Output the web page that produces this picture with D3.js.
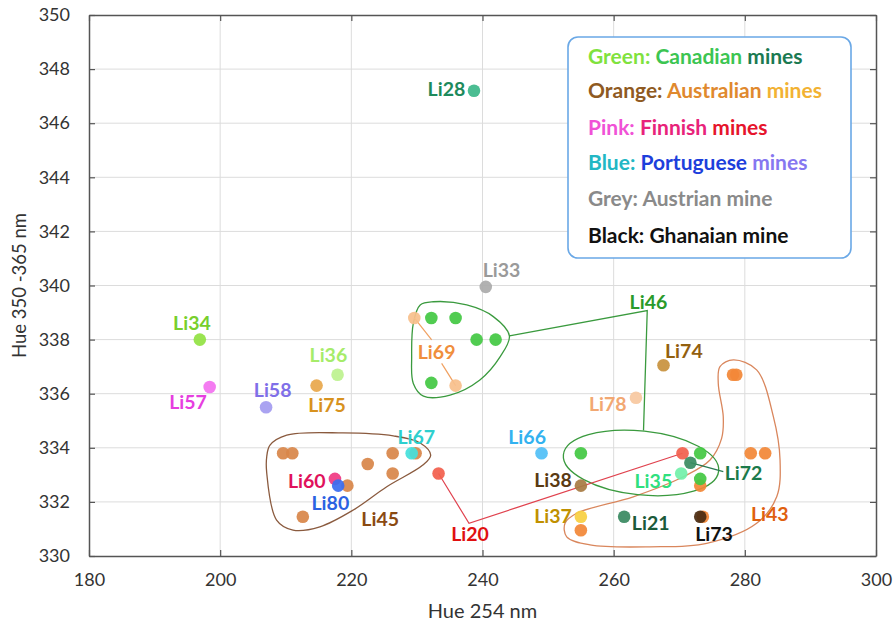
<!DOCTYPE html>
<html>
<head>
<meta charset="utf-8">
<script src="https://cdn.jsdelivr.net/npm/d3@7"></script>
<style>
  body { margin: 0; background: #fff; }
  svg { display: block; }
  text { font-family: Lato, "Open Sans", sans-serif; }
</style>
</head>
<body>
<svg id="chart" width="896" height="630"></svg>
<script>
// ---- data -------------------------------------------------------------
// Axis ticks
const xTicks = [180, 200, 220, 240, 260, 280, 300];
const yTicks = [330, 332, 334, 336, 338, 340, 342, 344, 346, 348, 350];

// One entry per measured point: sample id, hue at 254 nm, hue at 350-365 nm
const pointSample = [
  "Li43", "Li43", "Li43", "Li43", "Li43", "Li43", "Li43",
  "Li45", "Li45", "Li45", "Li45", "Li45", "Li45", "Li45", "Li45",
  "Li69", "Li69",
  "Li46", "Li46", "Li46", "Li46", "Li46", "Li46", "Li46", "Li46",
  "Li28", "Li33", "Li34", "Li57", "Li58", "Li36", "Li75", "Li66", "Li67",
  "Li60", "Li80", "Li20", "Li20", "Li38", "Li37", "Li35", "Li72", "Li21",
  "Li73", "Li74", "Li78"
];
const hue254 = [
  255.0, 278.2, 278.7, 280.9, 283.1, 273.2, 273.6,
  209.6, 211.0, 222.5, 226.3, 226.3, 219.4, 212.6, 229.8,
  229.6, 235.9,
  232.2, 235.9, 239.1, 242.0, 232.2, 255.0, 273.2, 273.2,
  238.7, 240.5, 196.9, 198.4, 207.0, 217.9, 214.7, 249.0, 229.2,
  217.5, 218.0, 233.3, 270.5, 255.0, 255.0, 270.3, 271.7, 261.6,
  273.2, 267.6, 263.4
];
const hue350 = [
  330.95, 336.7, 336.7, 333.8, 333.8, 332.6, 331.45,
  333.8, 333.8, 333.4, 333.8, 333.05, 332.6, 331.45, 333.8,
  338.8, 336.3,
  338.8, 338.8, 338.0, 338.0, 336.4, 333.8, 333.8, 332.85,
  347.2, 339.95, 338.0, 336.25, 335.5, 336.7, 336.3, 333.8, 333.8,
  332.85, 332.6, 333.05, 333.8, 332.6, 331.45, 333.05, 333.45, 331.45,
  331.45, 337.05, 335.85
];

// Sample labels, placed in data units
const labelText = ["Li28", "Li33", "Li34", "Li57", "Li58", "Li36", "Li75", "Li69",
  "Li46", "Li74", "Li78", "Li66", "Li67", "Li60", "Li80", "Li45", "Li20", "Li38",
  "Li35", "Li72", "Li37", "Li21", "Li73", "Li43"];
const labelX = [234.5, 242.9, 195.7, 195.1, 208.0, 216.5, 216.3, 233.0,
  265.3, 270.7, 259.1, 246.8, 229.9, 213.2, 216.8, 224.4, 238.1, 250.75,
  266.05, 279.8, 250.75, 265.65, 275.3, 283.8];
const labelY = [347.25, 340.55, 338.6, 335.68, 336.14, 337.43, 335.58, 337.53,
  339.4, 337.58, 335.61, 334.39, 334.41, 332.77, 331.97, 331.37, 330.81, 332.81,
  332.77, 333.06, 331.48, 331.21, 330.8, 331.54];

// Group outlines (data units)
const li45Outline = [[207.6, 334.1], [210.15, 334.47], [218.7, 334.55], [226.4, 334.44],
  [230.5, 334.18], [232.1, 333.73], [230.9, 333.36], [225.4, 332.56], [220.3, 331.7],
  [215.2, 331.08], [211.1, 330.96], [208.6, 331.33], [207.1, 333.07], [207.1, 333.67]];
const li46Outline = [[230.5, 339.28], [232.5, 339.4], [237.6, 339.28], [241.65, 338.85],
  [244.1, 338.14], [242.7, 337.37], [239.6, 336.51], [235.05, 335.95], [231.0, 335.91],
  [229.45, 336.38], [229.2, 337.37], [229.45, 338.6]];
const li43Outline = [[278.25, 337.25], [281.8, 336.88], [284.35, 335.15], [285.37, 333.55],
  [284.86, 332.19], [281.8, 331.21], [274.19, 330.47], [265.54, 330.34], [256.39, 330.41],
  [252.84, 330.71], [252.58, 331.21], [254.36, 331.58], [262.99, 332.19], [270.62, 332.93],
  [274.69, 333.55], [276.46, 334.35], [276.71, 335.15], [275.95, 336.38], [276.21, 337.0]];
// Second Li46 cluster: ellipse centre and half-axes (data units), tilt in degrees
const li46Ellipse = { cx: 264.17, cy: 333.44, rx: 11.9, ry: 1.18, tilt: 6 };

// Connector polylines (data units)
const li46Link = [[244.1, 338.14], [265.12, 339.07], [264.55, 334.64]];
const li20Link = [[233.3, 333.05], [237.94, 331.21], [270.5, 333.8]];
const li69LinkA = [[229.6, 338.8], [232.25, 337.99]];
const li69LinkB = [[233.77, 337.12], [235.9, 336.3]];
const li72Link = [[271.7, 333.45], [276.72, 333.12]];

// Legend lines: [text, colour] pieces
const legendLines = [
  [["Green: ", "#7fe23e"], ["Canadian ", "#3cc552"], ["mines", "#1b7a52"]],
  [["Orange: ", "#8f5a22"], ["Australian ", "#e0892e"], ["mines", "#f2b233"]],
  [["Pink: ", "#f052d6"], ["Finnish ", "#e8237a"], ["mines", "#e6142c"]],
  [["Blue: ", "#22b7c4"], ["Portuguese ", "#1d3fdc"], ["mines", "#8677f0"]],
  [["Grey: Austrian mine", "#8a8a8a"]],
  [["Black: Ghanaian mine", "#111111"]]
];

// ---- styles -----------------------------------------------------------
const pointColor = {
  Li43: "#f28838", Li45: "#d8874a", Li69: "#f8bf8c", Li46: "#44c844",
  Li28: "#3db88a", Li33: "#ababab", Li34: "#92e244", Li57: "#f372f0",
  Li58: "#a49cf0", Li36: "#bdf28f", Li75: "#e8a84c", Li66: "#52c0f6",
  Li67: "#45e0dc", Li60: "#f03a82", Li80: "#3a6ef0", Li20: "#f2604e",
  Li38: "#a87c44", Li37: "#f8d042", Li35: "#72f0aa", Li72: "#3a8c62",
  Li21: "#3a8a62", Li73: "#4a2c12", Li74: "#c8923e", Li78: "#f8c8a0"
};
const labelColor = {
  Li28: "#1d8a5c", Li33: "#9a9a9a", Li34: "#78cf2c", Li57: "#e63ee0",
  Li58: "#7f6fe8", Li36: "#a6ec6a", Li75: "#d8921e", Li69: "#f08e3c",
  Li46: "#2a9a2a", Li74: "#93600f", Li78: "#f2a872", Li66: "#33b2f0",
  Li67: "#2ecfce", Li60: "#e0125c", Li80: "#2b62e2", Li45: "#8a4a12",
  Li20: "#e01010", Li38: "#5a3a12", Li35: "#2fe07e", Li72: "#1b7a4a",
  Li37: "#c09000", Li21: "#1b5a3a", Li73: "#111111", Li43: "#e0600e"
};

// ---- layout -----------------------------------------------------------
const plot = { left: 89, right: 876, top: 15, bottom: 556 };

const x = d3.scaleLinear().domain([180, 300]).range([plot.left, plot.right]);
const y = d3.scaleLinear().domain([330, 350]).range([plot.bottom, plot.top]);

const svg = d3.select("#chart");

// gridlines
const grid = svg.append("g").attr("stroke", "#dcdcdc").attr("stroke-width", 1);
grid.selectAll(".gx").data(xTicks.slice(1, -1)).join("line")
  .attr("x1", d => x(d)).attr("x2", d => x(d))
  .attr("y1", plot.top).attr("y2", plot.bottom);
grid.selectAll(".gy").data(yTicks.slice(1, -1)).join("line")
  .attr("x1", plot.left).attr("x2", plot.right)
  .attr("y1", d => y(d)).attr("y2", d => y(d));

// axes with inward ticks on all four sides
const axisColor = "#555";
function styleAxis(g, showText) {
  g.select(".domain").attr("stroke", axisColor).attr("stroke-width", 1.5);
  g.selectAll(".tick line").attr("stroke", axisColor).attr("stroke-width", 1.2);
  g.selectAll(".tick text")
    .attr("fill", "#333")
    .style("font-size", "18px")
    .style("font-family", "Lato, 'Open Sans', sans-serif");
  if (!showText) g.selectAll(".tick text").remove();
}
svg.append("g").attr("transform", `translate(0,${plot.bottom})`)
  .call(d3.axisBottom(x).tickValues(xTicks).tickSize(-6).tickSizeOuter(0).tickPadding(17))
  .call(g => styleAxis(g, true));
svg.append("g").attr("transform", `translate(0,${plot.top})`)
  .call(d3.axisTop(x).tickValues(xTicks).tickSize(-6).tickSizeOuter(0))
  .call(g => styleAxis(g, false));
svg.append("g").attr("transform", `translate(${plot.left},0)`)
  .call(d3.axisLeft(y).tickValues(yTicks).tickSize(-6).tickSizeOuter(0).tickPadding(19))
  .call(g => styleAxis(g, true));
svg.append("g").attr("transform", `translate(${plot.right},0)`)
  .call(d3.axisRight(y).tickValues(yTicks).tickSize(-6).tickSizeOuter(0))
  .call(g => styleAxis(g, false));

// axis titles
svg.append("text")
  .attr("x", (plot.left + plot.right) / 2).attr("y", 611)
  .attr("text-anchor", "middle").attr("dy", "0.35em")
  .attr("fill", "#333").style("font-size", "20px")
  .text("Hue 254 nm");
svg.append("text")
  .attr("transform", `translate(20,${(plot.top + plot.bottom) / 2}) rotate(-90)`)
  .attr("text-anchor", "middle").attr("dy", "0.35em")
  .attr("fill", "#333").style("font-size", "18.5px")
  .text("Hue 350 -365 nm");

// ---- group outlines and connectors --------------------------------------
const toPx = pts => pts.map(p => [x(p[0]), y(p[1])]);
const closedCurve = d3.line().curve(d3.curveCatmullRomClosed.alpha(0.5));
const polyline = d3.line();
const annot = svg.append("g").attr("fill", "none");

annot.append("path").attr("d", closedCurve(toPx(li45Outline)))
  .attr("stroke", "#8a5a3e").attr("stroke-width", 1.3);
annot.append("path").attr("d", closedCurve(toPx(li46Outline)))
  .attr("stroke", "#3a9a3e").attr("stroke-width", 1.3);
annot.append("path").attr("d", closedCurve(toPx(li43Outline)))
  .attr("stroke", "#d9865c").attr("stroke-width", 1.3);
annot.append("ellipse")
  .attr("cx", 0).attr("cy", 0)
  .attr("rx", x(li46Ellipse.cx + li46Ellipse.rx) - x(li46Ellipse.cx))
  .attr("ry", y(li46Ellipse.cy) - y(li46Ellipse.cy + li46Ellipse.ry))
  .attr("transform", `translate(${x(li46Ellipse.cx)},${y(li46Ellipse.cy)}) rotate(${li46Ellipse.tilt})`)
  .attr("stroke", "#3a9a3e").attr("stroke-width", 1.3);

annot.append("path").attr("d", polyline(toPx(li46Link)))
  .attr("stroke", "#3a9a3e").attr("stroke-width", 1.3);
annot.append("path").attr("d", polyline(toPx(li20Link)))
  .attr("stroke", "#e0424e").attr("stroke-width", 1.2);
annot.append("path").attr("d", polyline(toPx(li69LinkA)))
  .attr("stroke", "#f0a060").attr("stroke-width", 1.2);
annot.append("path").attr("d", polyline(toPx(li69LinkB)))
  .attr("stroke", "#f0a060").attr("stroke-width", 1.2);
annot.append("path").attr("d", polyline(toPx(li72Link)))
  .attr("stroke", "#2a7a52").attr("stroke-width", 1.3);

// ---- points -------------------------------------------------------------
const points = pointSample.map((s, i) => ({ s, hx: hue254[i], hy: hue350[i] }));
svg.append("g").selectAll("circle").data(points).join("circle")
  .attr("cx", d => x(d.hx)).attr("cy", d => y(d.hy))
  .attr("r", 6.3)
  .attr("fill", d => pointColor[d.s])
  .attr("fill-opacity", 0.93);

// ---- sample labels ------------------------------------------------------
svg.append("g").selectAll("text").data(labelText).join("text")
  .attr("x", (d, i) => x(labelX[i])).attr("y", (d, i) => y(labelY[i]))
  .attr("text-anchor", "middle").attr("dy", "0.35em")
  .attr("fill", d => labelColor[d])
  .style("font-size", "19.5px").style("font-weight", "700")
  .text(d => d);

// ---- legend -------------------------------------------------------------
const legend = svg.append("g").attr("transform", "translate(568,37)");
legend.append("rect")
  .attr("width", 283).attr("height", 221).attr("rx", 10)
  .attr("fill", "#fff").attr("stroke", "#6aa8e6").attr("stroke-width", 1.6);
const lineY = [20, 54, 91, 126, 162, 199];
legendLines.forEach((parts, i) => {
  const t = legend.append("text")
    .attr("x", 20).attr("y", lineY[i]).attr("dy", "0.35em")
    .style("font-size", "21px").style("font-weight", "700");
  parts.forEach(([str, col]) => t.append("tspan").attr("fill", col).text(str));
});
</script>
</body>
</html>
